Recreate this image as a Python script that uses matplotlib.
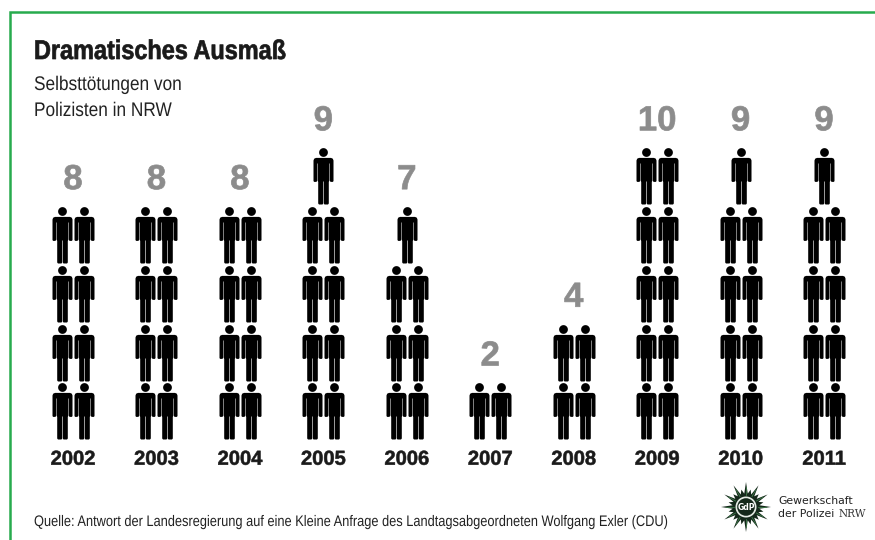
import numpy as np
import matplotlib
matplotlib.use("Agg")
import matplotlib.pyplot as plt
from matplotlib.path import Path
from matplotlib.patches import Circle, Polygon
from matplotlib.patheffects import AbstractPathEffect
from matplotlib.transforms import Affine2D

years = [2002, 2003, 2004, 2005, 2006, 2007, 2008, 2009, 2010, 2011]
counts = [8, 8, 8, 9, 7, 2, 4, 10, 9, 9]
title = "Dramatisches Ausmaß"
subtitle = ["Selbsttötungen von", "Polizisten in NRW"]
source = "Quelle: Antwort der Landesregierung auf eine Kleine Anfrage des Landtagsabgeordneten Wolfgang Exler (CDU)"

W, H = 875, 540


class Squeeze(AbstractPathEffect):
    """Condense (and optionally embolden) real text around a display x position."""
    def __init__(self, x0=0, sx=1.0, stroke=0.0):
        super().__init__()
        self.x0, self.sx, self.stroke = x0, sx, stroke

    def draw_path(self, renderer, gc, tpath, affine, rgbFace=None):
        t = affine + Affine2D().translate(-self.x0, 0).scale(self.sx, 1).translate(self.x0, 0)
        gc.set_linewidth(self.stroke)
        renderer.draw_path(gc, tpath, t, rgbFace)


fig = plt.figure(figsize=(W/100, H/100), dpi=100, facecolor="white")
bg = fig.add_axes([0, 0, 1, 1])
bg.set_xlim(0, W); bg.set_ylim(H, 0); bg.axis("off")

SANS = "Liberation Sans"
GREEN = "#27ab4d"
bg.plot([875, 10, 10], [11.5, 11.5, 540], color=GREEN, lw=1.8, solid_joinstyle="miter")


def narrow(x, y, s, sx, stroke=0.0, **kw):
    t = bg.text(x, y, s, family=SANS, va="center", ha="left", **kw)
    t.set_path_effects([Squeeze(x, sx, stroke)])
    return t


narrow(34, 52, title, 0.866, stroke=0.5, weight="bold", fontsize=19.5, color="#1a1a1a")
narrow(34, 84.5, subtitle[0], 0.875, fontsize=14.2, color="#222222")
narrow(34, 110.5, subtitle[1], 0.875, fontsize=14.2, color="#222222")
narrow(34, 522, source, 0.838, fontsize=11, color="#222222")

# person glyph
body = [(-7.5, 18.6), (7.5, 18.6), (9.3, 17.8), (10, 16), (10, -4.6), (9.3, -5.4), (7.1, -5.4), (6.5, -4.6),
        (6.5, 13), (6.0, 13), (6.0, -4), (5.3, -5.4), (5.3, -27), (4.5, -28), (1.0, -28), (0.3, -27),
        (0.3, -5), (-0.3, -5), (-0.3, -27), (-1.0, -28), (-4.5, -28), (-5.3, -27), (-5.3, -5.4),
        (-6.0, -4), (-6.0, 13), (-6.5, 13), (-6.5, -4.6), (-7.1, -5.4), (-9.3, -5.4), (-10, -4.6),
        (-10, 16), (-9.3, 17.8), (-7.5, 18.6)]
bodyp = Path(body, closed=True)
theta = np.linspace(0, 2*np.pi, 25)
head = Path(np.c_[4.4*np.cos(theta), 24+4.4*np.sin(theta)], closed=True)
person = Path.make_compound_path(bodyp, head)

ax = fig.add_axes([0, 0, 1, 1])
ax.patch.set_alpha(0); ax.axis("off")
x0, dx = 73.0, 83.45
y0, dy = 411.3, 58.8
ax.set_xlim((0 - x0)/dx, (W - x0)/dx)
ax.set_ylim((y0 - H)/dy, (y0 - 0)/dy)
OFF = 11.0 / dx
SIZE = (56.8*0.72)**2
for i, (yr, c) in enumerate(zip(years, counts)):
    rows = np.arange(c) // 2
    xs = np.array([i - OFF if k % 2 == 0 else i + OFF for k in range(c)], float)
    if c % 2:
        xs[-1] = i
    ax.scatter(xs, rows, marker=person, s=SIZE, color="black", linewidths=0)
    n = ax.text(i, rows.max() + 0.94, str(c), ha="center", va="center", family=SANS, weight="bold",
                fontsize=25, color="#8c8c8c")
    n.set_path_effects([Squeeze(stroke=0.5)])
    y = ax.text(i, -0.815, str(yr), ha="center", va="center", family=SANS, weight="bold",
                fontsize=14.5, color="#1a1a1a")
    y.set_path_effects([Squeeze(stroke=0.4)])

# logo
cx, cy = 746, 507
pts = []
n = 12
for k in range(n):
    a = 2*np.pi*k/n + np.pi/2
    step = np.pi/n
    for r_, da in ((25, 0), (13.5, step/2), (18, step), (13.5, 1.5*step)):
        pts.append((cx + r_*np.cos(a+da), cy - r_*np.sin(a+da)))
bg.add_patch(Polygon(pts, closed=True, fc="#14281a", ec="none"))
for k in range(n):
    a = 2*np.pi*k/n + np.pi/2
    bg.plot([cx + 12*np.cos(a), cx + 20*np.cos(a)], [cy - 12*np.sin(a), cy - 20*np.sin(a)],
            color="#3f7a4a", lw=0.6)
bg.add_patch(Circle((cx, cy), 10.5, fc="#e4ebe4", ec="none"))
bg.add_patch(Circle((cx, cy), 8.8, fc="#14281a", ec="none"))
bg.text(cx, cy, "GdP", color="white", fontsize=5.5, ha="center", va="center", weight="bold")
bg.text(778, 501.5, "Gewerkschaft", family="DejaVu Sans", fontsize=7.8, color="#222222", va="center")
bg.text(778, 514, "der Polizei", family="DejaVu Sans", fontsize=7.8, color="#222222", va="center")
bg.text(838.5, 514, "NRW", family="DejaVu Serif", fontsize=7.6, color="#333333", va="center")

fig.savefig("out.png", dpi=100, facecolor="white")
